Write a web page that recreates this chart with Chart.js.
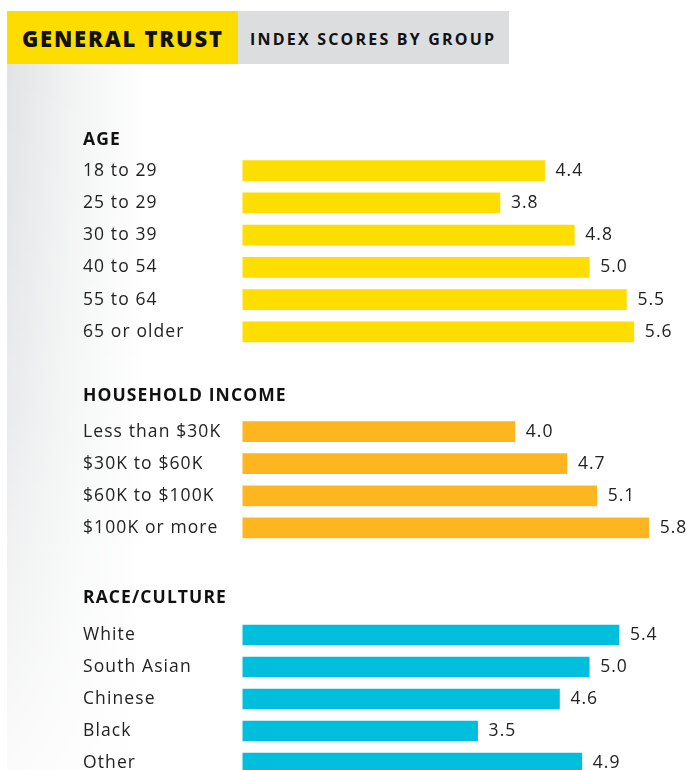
<!DOCTYPE html>
<html>
<head>
<meta charset="utf-8">
<script src="https://cdn.jsdelivr.net/npm/chart.js@4.4.0/dist/chart.umd.min.js"></script>
<style>
  html, body { margin: 0; padding: 0; background: #fff; }
  body { width: 687px; height: 770px; overflow: hidden; position: relative; font-family: "Open Sans", sans-serif; }
  #panel {
    position: absolute; left: 7px; top: 64px; width: 680px; height: 706px;
    background:
      linear-gradient(to bottom, rgba(255,255,255,0) 0%, rgba(255,255,255,0.3) 50%, rgba(255,255,255,0.85) 100%),
      linear-gradient(to right, #e2e3e5 0px, #f3f4f4 70px, #fff 140px);
  }
  .hdr { position: absolute; top: 11px; height: 53px; line-height: 55px; color: #111; font-weight: 700; white-space: nowrap; }
  #hdr1 { left: 7px; width: 231px; background: #fddc00; font-size: 22px; font-weight: 800; text-indent: 15px; letter-spacing: 1.8px; }
  #hdr2 { left: 238px; width: 271px; background: #dcdddf; font-size: 16px; text-indent: 12px; letter-spacing: 2.2px; line-height: 57px; }
  canvas { position: absolute; left: 0; }
</style>
</head>
<body>
<div id="panel"></div>
<div class="hdr" id="hdr1">GENERAL TRUST</div>
<div class="hdr" id="hdr2">INDEX SCORES BY GROUP</div>
<canvas id="age-chart" width="687" height="217" style="top:131px"></canvas>
<canvas id="income-chart" width="687" height="157" style="top:387px"></canvas>
<canvas id="race-chart" width="687" height="190" style="top:589px"></canvas>
<script>
// data
const ageLabels = ["18 to 29", "25 to 29", "30 to 39", "40 to 54", "55 to 64", "65 or older"];
const ageValues = [4.4, 3.8, 4.8, 5.0, 5.5, 5.6];

const incomeLabels = ["Less than $30K", "$30K to $60K", "$60K to $100K", "$100K or more"];
const incomeValues = [4.0, 4.7, 5.1, 5.8];

const raceLabels = ["White", "South Asian", "Chinese", "Black", "Other"];
const raceValues = [5.4, 5.0, 4.6, 3.5, 4.9];

const fontFamily = '"Open Sans", sans-serif';

// wider lettering, closer to the original typeface
const spacing = {
  id: 'spacing',
  beforeDraw(chart) {
    chart.ctx.letterSpacing = '1.1px';
  }
};

// writes the score just right of each bar
const valueLabels = {
  id: 'valueLabels',
  afterDatasetsDraw(chart) {
    const ctx = chart.ctx;
    const meta = chart.getDatasetMeta(0);
    ctx.save();
    ctx.letterSpacing = '1px';
    ctx.font = '17.5px ' + fontFamily;
    ctx.fillStyle = '#222';
    ctx.textAlign = 'left';
    ctx.textBaseline = 'middle';
    meta.data.forEach((bar, i) => {
      const v = chart.data.datasets[0].data[i];
      ctx.fillText(v.toFixed(1), bar.x + 11, bar.y);
    });
    ctx.restore();
  }
};

function makeChart(id, title, labels, values, color, titleGap) {
  return new Chart(document.getElementById(id), {
    type: 'bar',
    data: {
      labels: labels,
      datasets: [{
        data: values,
        backgroundColor: color,
        barThickness: 20
      }]
    },
    options: {
      indexAxis: 'y',
      responsive: false,
      animation: false,
      layout: { padding: { left: 83, right: 7, top: 0, bottom: 0 } },
      plugins: {
        legend: { display: false },
        tooltip: { enabled: false },
        title: {
          display: true,
          text: title,
          align: 'start',
          color: '#111',
          font: { family: fontFamily, size: 17.5, weight: '700', lineHeight: 1 },
          padding: { top: 0, bottom: titleGap }
        }
      },
      scales: {
        x: { display: false, min: 0.34, max: 6.22 },
        y: {
          grid: { display: false },
          border: { display: false },
          ticks: {
            crossAlign: 'far',
            padding: 0,
            color: '#222',
            font: { family: fontFamily, size: 17.5 }
          },
          afterFit(scale) {
            scale.width = 159.5;
            scale.paddingTop = 0;
            scale.paddingBottom = 0;
          }
        }
      }
    },
    plugins: [spacing, valueLabels]
  });
}

makeChart('age-chart', 'AGE', ageLabels, ageValues, '#fedd00', 6);
makeChart('income-chart', 'HOUSEHOLD INCOME', incomeLabels, incomeValues, '#feb620', 11);
makeChart('race-chart', 'RACE/CULTURE', raceLabels, raceValues, '#00bfdd', 12.5);
</script>
</body>
</html>
